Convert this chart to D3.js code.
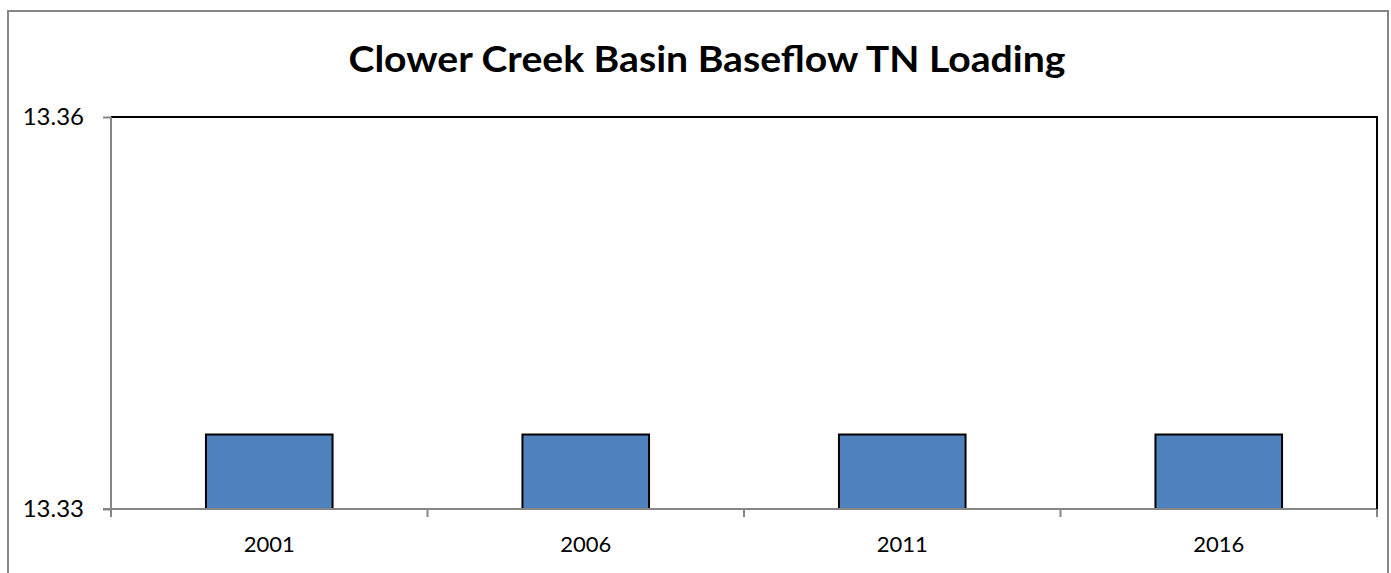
<!DOCTYPE html>
<html>
<head>
<meta charset="utf-8">
<script src="https://cdn.jsdelivr.net/npm/d3@7"></script>
<style>
  html, body { margin: 0; padding: 0; background: #fff; }
  svg { display: block; }
</style>
</head>
<body>
<svg id="chart" width="1391" height="573"></svg>
<script>
const title = "Clower Creek Basin Baseflow TN Loading";
const categories = ["2001", "2006", "2011", "2016"];
const values = [13.3357, 13.3357, 13.3357, 13.3357];
const yDomain = [13.33, 13.36];
const yTicks = [13.33, 13.36];

const svg = d3.select("#chart");
const plot = { left: 111, right: 1377, top: 117, bottom: 509 };
const font = "Lato, 'Open Sans', 'Liberation Sans', Arial, sans-serif";

// outer frame
svg.append("rect")
  .attr("x", 8).attr("y", 11)
  .attr("width", 1380).attr("height", 620)
  .attr("fill", "#fff")
  .attr("stroke", "#868686").attr("stroke-width", 2);

// title
svg.append("text")
  .attr("x", 707).attr("y", 72)
  .attr("text-anchor", "middle")
  .attr("font-family", font)
  .attr("font-weight", "bold")
  .attr("font-size", 36)
  .attr("textLength", 717)
  .attr("lengthAdjust", "spacingAndGlyphs")
  .attr("fill", "#000")
  .text(title);

const x = d3.scaleBand()
  .domain(categories)
  .range([plot.left, plot.right])
  .paddingInner(0.6)
  .paddingOuter(0.3);

const y = d3.scaleLinear().domain(yDomain).range([plot.bottom, plot.top]);

// plot area border (top & right black)
svg.append("path")
  .attr("d", `M${plot.left},${plot.top}H${plot.right}V${plot.bottom}`)
  .attr("fill", "none")
  .attr("stroke", "#000").attr("stroke-width", 2);

// bars
svg.append("g").selectAll("rect")
  .data(categories.map((c, i) => ({ c, v: values[i] })))
  .join("rect")
  .attr("x", d => x(d.c))
  .attr("y", d => y(d.v))
  .attr("width", x.bandwidth())
  .attr("height", d => y(yDomain[0]) - y(d.v))
  .attr("fill", "#4F81BD")
  .attr("stroke", "#000")
  .attr("stroke-width", 2);

// y axis
const yAxis = svg.append("g")
  .attr("transform", `translate(${plot.left},0)`)
  .call(d3.axisLeft(y).tickValues(yTicks).tickFormat(d3.format(".2f")).tickSize(8).tickPadding(19));
yAxis.select(".domain").attr("stroke", "#868686").attr("stroke-width", 2)
  .attr("d", `M0,${plot.top}V${plot.bottom}`);
yAxis.selectAll(".tick line").attr("stroke", "#868686").attr("stroke-width", 2);
yAxis.selectAll("text").attr("font-family", font).attr("font-size", 24).attr("fill", "#000");

// x axis
const step = x.step();
const boundaries = d3.range(categories.length + 1).map(i => plot.left + i * step);
const xAxisG = svg.append("g");
xAxisG.append("line")
  .attr("x1", plot.left - 8).attr("x2", plot.right)
  .attr("y1", plot.bottom).attr("y2", plot.bottom)
  .attr("stroke", "#868686").attr("stroke-width", 2);
xAxisG.selectAll("line.tk")
  .data(boundaries)
  .join("line")
  .attr("class", "tk")
  .attr("x1", d => d).attr("x2", d => d)
  .attr("y1", plot.bottom).attr("y2", plot.bottom + 8)
  .attr("stroke", "#868686").attr("stroke-width", 2);
xAxisG.selectAll("text")
  .data(categories)
  .join("text")
  .attr("x", d => x(d) + x.bandwidth() / 2)
  .attr("y", 552)
  .attr("text-anchor", "middle")
  .attr("font-family", font)
  .attr("font-size", 22)
  .attr("fill", "#000")
  .text(d => d);

// right border redraw over axis end
svg.append("line")
  .attr("x1", plot.right).attr("x2", plot.right)
  .attr("y1", plot.top).attr("y2", plot.bottom)
  .attr("stroke", "#000").attr("stroke-width", 2);
</script>
</body>
</html>
